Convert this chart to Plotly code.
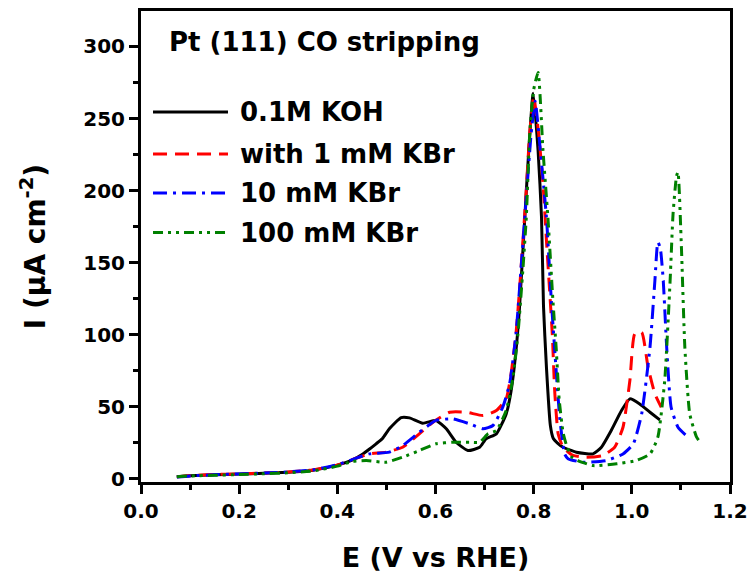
import plotly.graph_objects as go

# ---- data ----
E_koh = [0.073, 0.10, 0.15, 0.20, 0.25, 0.30, 0.35, 0.40, 0.43, 0.452, 0.465, 0.479, 0.492, 0.506,
         0.53, 0.547, 0.574, 0.601, 0.622, 0.642, 0.666, 0.690, 0.703, 0.724, 0.744, 0.754, 0.764,
         0.771, 0.782, 0.790, 0.799, 0.809, 0.816, 0.820, 0.826, 0.834, 0.840, 0.848, 0.860, 0.887,
         0.921, 0.938, 0.958, 0.979, 0.996, 1.016, 1.037, 1.057]
I_koh = [1.5, 2.2, 2.8, 3.3, 3.8, 4.6, 6.0, 9.5, 13.0, 17.3, 20.5, 24.3, 28.0, 34.7,
         42.5, 42.3, 38.6, 40.5, 34.7, 25.4, 19.6, 21.9, 27.8, 31.2, 45.0, 61.0, 89.0,
         118.0, 181.5, 227.8, 267.6, 227.8, 181.5, 120.0, 77.5, 37.0, 28.0, 25.0, 21.9, 18.5,
         17.3, 21.9, 33.5, 47.4, 55.5, 52.0, 46.2, 40.9]

E_1mM = [0.073, 0.10, 0.15, 0.20, 0.25, 0.30, 0.35, 0.40, 0.44, 0.465, 0.499, 0.533, 0.567, 0.595,
         0.629, 0.663, 0.697, 0.724, 0.744, 0.754, 0.764, 0.772, 0.784, 0.792, 0.800, 0.810, 0.819,
         0.827, 0.833, 0.838, 0.843, 0.850, 0.860, 0.880, 0.907, 0.941, 0.965, 0.982, 0.996, 1.006,
         1.020, 1.033, 1.047, 1.060]
I_1mM = [1.5, 2.2, 3.0, 3.5, 4.0, 4.8, 6.2, 9.5, 14.5, 17.3, 18.5, 21.9, 31.2, 39.3,
         46.2, 46.2, 43.9, 47.4, 55.5, 72.9, 100.6, 135.0, 195.0, 240.0, 265.0, 240.0, 204.7,
         160.0, 128.0, 100.0, 60.0, 31.0, 21.9, 16.2, 15.0, 16.2, 21.9, 35.8, 68.2, 100.6,
         101.7, 77.5, 59.0, 49.7]

E_10mM = [0.073, 0.10, 0.15, 0.20, 0.25, 0.30, 0.35, 0.40, 0.44, 0.465, 0.506, 0.533, 0.567, 0.601,
          0.635, 0.669, 0.697, 0.717, 0.737, 0.751, 0.764, 0.773, 0.786, 0.795, 0.803, 0.813, 0.826,
          0.836, 0.843, 0.853, 0.863, 0.870, 0.900, 0.948, 0.982, 1.003, 1.020, 1.037, 1.047, 1.053,
          1.058, 1.064, 1.071, 1.080, 1.094, 1.111]
I_10mM = [1.2, 2.0, 2.8, 3.4, 4.0, 4.8, 6.2, 9.8, 14.5, 17.3, 18.5, 23.1, 32.3, 40.5,
          41.6, 38.2, 34.7, 37.0, 49.7, 65.9, 100.6, 140.0, 200.0, 240.0, 262.0, 230.0, 181.5,
          123.7, 89.0, 42.8, 17.3, 14.0, 11.5, 12.7, 17.3, 24.3, 45.0, 91.3, 137.6, 164.2,
          160.0, 137.6, 91.3, 49.7, 35.8, 30.0]

E_100mM = [0.073, 0.10, 0.15, 0.20, 0.25, 0.30, 0.35, 0.40, 0.43, 0.459, 0.499, 0.533, 0.567, 0.601,
           0.635, 0.669, 0.690, 0.707, 0.724, 0.744, 0.758, 0.768, 0.778, 0.785, 0.792, 0.800, 0.809,
           0.819, 0.829, 0.839, 0.846, 0.852, 0.860, 0.868, 0.878, 0.890, 0.921, 0.969, 1.009, 1.037,
           1.053, 1.067, 1.078, 1.084, 1.091, 1.094, 1.101, 1.108, 1.118, 1.132, 1.142]
I_100mM = [1.5, 2.0, 2.5, 3.0, 3.5, 4.2, 5.5, 8.8, 12.0, 12.7, 11.5, 15.0, 19.6, 24.3,
           25.4, 25.4, 25.4, 31.2, 33.5, 47.4, 70.5, 100.6, 145.0, 181.5, 239.4, 270.0, 282.0,
           227.8, 181.5, 125.0, 90.0, 55.0, 32.0, 22.0, 15.0, 12.7, 9.2, 10.4, 12.7, 17.3,
           28.9, 68.2, 137.6, 183.9, 210.0, 212.8, 160.7, 91.3, 45.0, 28.9, 24.3]

series_names = ["0.1M KOH", "with 1 mM KBr", "10 mM KBr", "100 mM KBr"]
series_E = [E_koh, E_1mM, E_10mM, E_100mM]
series_I = [I_koh, I_1mM, I_10mM, I_100mM]
series_colors = ["#000000", "#ff0000", "#0000ff", "#008000"]
series_dash = ["solid", "14px,8px", "14px,6px,3px,6px", "10px,5px,3px,5px,3px,5px"]

x_ticks = [0.0, 0.2, 0.4, 0.6, 0.8, 1.0, 1.2]
y_ticks = [0, 50, 100, 150, 200, 250, 300]

FONT = "DejaVu Sans"
LW = 3

fig = go.Figure()
for name, ex, iy, col, dsh in zip(series_names, series_E, series_I, series_colors, series_dash):
    fig.add_trace(go.Scatter(x=ex, y=iy, mode="lines", name=name,
                             line=dict(color=col, width=LW, dash=dsh, shape="spline", smoothing=0.5),
                             showlegend=False))

axis_common = dict(showline=True, linecolor="black", linewidth=3, mirror=True,
                   ticks="outside", ticklen=9, tickwidth=2.5, tickcolor="black",
                   showgrid=False, zeroline=False, automargin=False,
                   tickfont=dict(family=FONT, size=20, color="black"))

fig.update_xaxes(range=[0, 1.2], tickmode="array", tickvals=x_ticks,
                 ticktext=[f"<b>{v:.1f}</b>" for v in x_ticks],
                 minor=dict(ticks="outside", ticklen=5, tickwidth=2.5, dtick=0.1, tick0=0, tickcolor="black"),
                 title=dict(text="<b>E (V vs RHE)</b>", standoff=27,
                            font=dict(family=FONT, size=27, color="black")),
                 **axis_common)
fig.update_yaxes(range=[-2.2, 324.6], tickmode="array", tickvals=y_ticks,
                 ticktext=[f"<b>{v}</b>" for v in y_ticks],
                 minor=dict(ticks="outside", ticklen=5, tickwidth=2.5, dtick=25, tick0=0, tickcolor="black"),
                 title=dict(text="<b>I (μA cm<sup>-2</sup>)</b>", standoff=30,
                            font=dict(family=FONT, size=28, color="black")),
                 **axis_common)

bold = lambda s: f"<b>{s}</b>"
annotations = [
    dict(text=bold("Pt (111) CO stripping"), x=0.044, y=0.934, xref="paper", yref="paper",
         xanchor="left", yanchor="middle", showarrow=False, font=dict(family=FONT, size=26, color="black")),
]

# hand-drawn legend (swatch lines + labels)
leg_rows = [0.7856, 0.6964, 0.6136, 0.5297]
shapes = []
for name, col, dsh, yy in zip(series_names, series_colors, series_dash, leg_rows):
    shapes.append(dict(type="line", xref="paper", yref="paper", x0=0.0204, x1=0.1477, y0=yy, y1=yy,
                       line=dict(color=col, width=LW, dash=dsh)))
    annotations.append(dict(text=bold(name), x=0.1647, y=yy, xref="paper", yref="paper",
                            xanchor="left", yanchor="middle", showarrow=False,
                            font=dict(family=FONT, size=26, color="black")))

fig.update_layout(width=749, height=575, margin=dict(l=141, r=19, t=11, b=93),
                  paper_bgcolor="white", plot_bgcolor="white",
                  annotations=annotations, shapes=shapes, showlegend=False)

fig.write_html("out.html")
